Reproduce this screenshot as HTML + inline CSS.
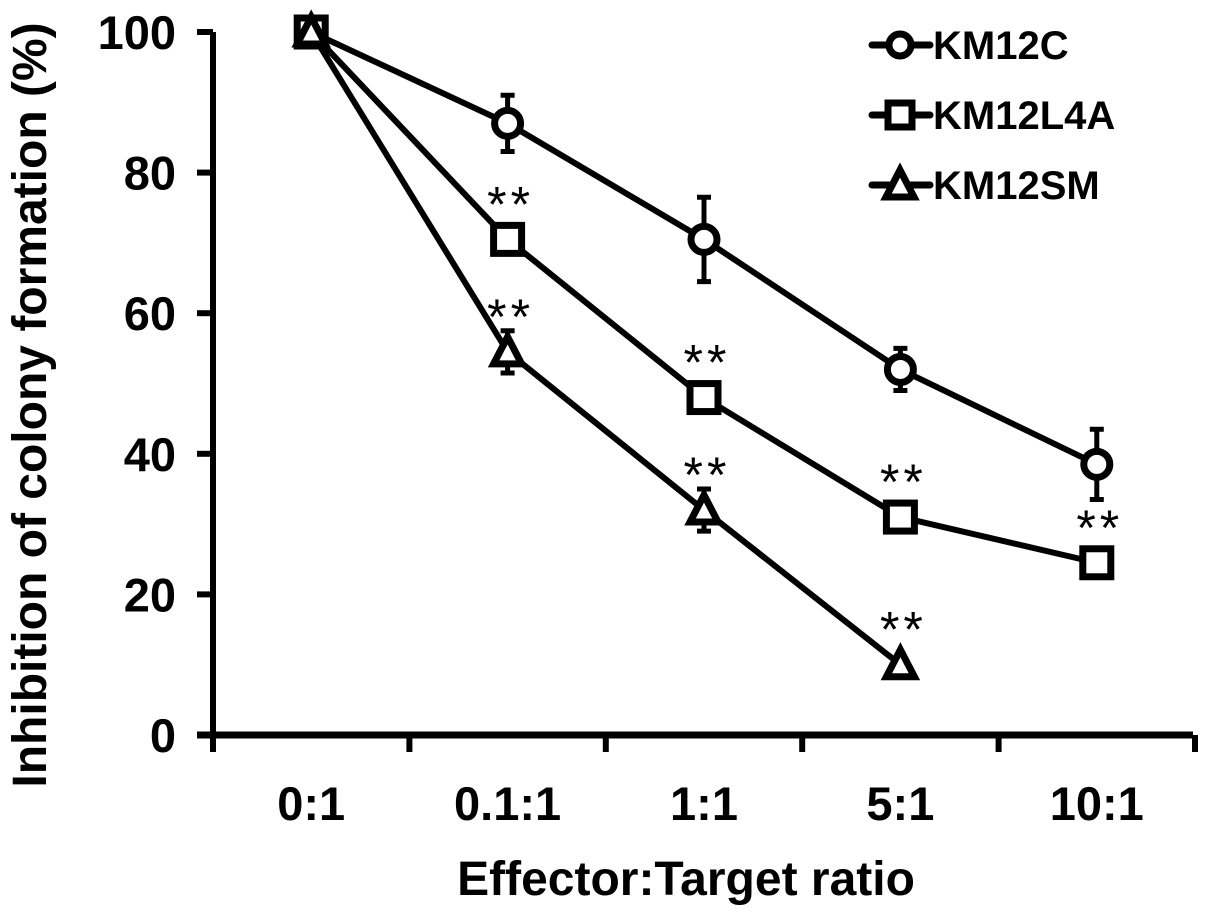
<!DOCTYPE html>
<html><head><meta charset="utf-8"><style>
html,body{margin:0;padding:0;background:#fff;}
svg{display:block;font-family:"Liberation Sans",Arial,sans-serif;font-weight:bold;}
</style></head><body>
<svg id="chart" width="1205" height="922" viewBox="0 0 1205 922"></svg>
<script>
const categories = ["0:1","0.1:1","1:1","5:1","10:1"];
const yTicks = [0,20,40,60,80,100];
const km12c = [100,87,70.5,52,38.5];
const km12cErr = [0,4,6,3,5];
const km12l4a = [100,70.5,48,31,24.5];
const km12l4aErr = [0,1,1,1,1];
const km12sm = [100,54.5,32,10];
const km12smErr = [0,3,3,0];
const starsL4A = [false,true,true,true,true];
const starsSM = [false,true,true,true];
const seriesNames = ["KM12C","KM12L4A","KM12SM"];

const svg = document.getElementById('chart');
const NS = 'http://www.w3.org/2000/svg';
const X0 = 213, XEND = 1193, Y0 = 735, YTOP = 32, STEP = 196.4;
function xs(i){ return X0 + STEP*(i+0.5); }
function ys(v){ return Y0 - (v/100)*(Y0-YTOP); }
function mk(tag, attrs, parent){
  const e = document.createElementNS(NS, tag);
  for (const k in attrs) e.setAttribute(k, attrs[k]);
  (parent||svg).appendChild(e);
  return e;
}
const S = '#000';
let ax = mk('line',{x1:X0,y1:YTOP,x2:X0,y2:Y0+3,stroke:S,'stroke-width':6});
 
ax = mk('line',{x1:X0-16,y1:Y0,x2:XEND,y2:Y0,stroke:S,'stroke-width':7});
 
yTicks.forEach(v=>{
  const t = mk('line',{x1:X0-16,y1:ys(v),x2:X0,y2:ys(v),stroke:S,'stroke-width':6});
   
  const l = mk('text',{x:176,y:ys(v)+17,'text-anchor':'end','font-size':47});
  l.textContent = v;
   
});
for (let i=0;i<=categories.length;i++){
  const t = mk('line',{x1:X0+STEP*i,y1:Y0,x2:X0+STEP*i,y2:Y0+17,stroke:S,'stroke-width':6});
   
}
categories.forEach((c,i)=>{
  const l = mk('text',{x:xs(i),y:820,'text-anchor':'middle','font-size':47});
  l.textContent = c;
   
});
let tt = mk('text',{x:686,y:895,'text-anchor':'middle','font-size':48});
tt.textContent = 'Effector:Target ratio';
 
tt = mk('text',{x:0,y:0,'text-anchor':'middle','font-size':48,transform:'translate(46,405) rotate(-90)'});
tt.textContent = 'Inhibition of colony formation (%)';
 

function marker(type, cx, cy, g){
  let m;
  if (type==='circle') m = mk('circle',{cx:cx,cy:cy,r:13,fill:'#fff',stroke:S,'stroke-width':7},g);
  else if (type==='square') m = mk('rect',{x:cx-14,y:cy-14,width:28,height:28,fill:'#fff',stroke:S,'stroke-width':7},g);
  else m = mk('polygon',{points:`${cx},${cy-15} ${cx+14},${cy+12} ${cx-14},${cy+12}`,fill:'#fff',stroke:S,'stroke-width':7},g);
  return m;
}
function drawSeries(vals, errs, type, name, stars){
  const g = mk('g',{});
  
  
  const pts = vals.map((v,i)=>xs(i)+','+ys(v)).join(' ');
  mk('polyline',{points:pts,fill:'none',stroke:S,'stroke-width':6,'stroke-linejoin':'round'},g);
  vals.forEach((v,i)=>{
    const e = errs[i];
    if (e>0){
      const eb = mk('path',{d:`M${xs(i)},${ys(v+e)}V${ys(v-e)}M${xs(i)-7},${ys(v+e)}H${xs(i)+7}M${xs(i)-7},${ys(v-e)}H${xs(i)+7}`,stroke:S,'stroke-width':5,fill:'none'},g);
       
    }
  });
  vals.forEach((v,i)=>{
    const m = marker(type, xs(i), ys(v), g);
    
    
    if (stars && stars[i]){
      const s = mk('text',{x:xs(i)+3,y:ys(v)-18,'text-anchor':'middle','font-size':50,'font-weight':'normal','letter-spacing':4},g);
      s.textContent = '**';
      
      
    }
  });
}
drawSeries(km12c, km12cErr, 'circle', 'km12c', null);
drawSeries(km12l4a, km12l4aErr, 'square', 'km12l4a', starsL4A);
drawSeries(km12sm, km12smErr, 'triangle', 'km12sm', starsSM);

const types = ['circle','square','triangle'];
const legY = [45,115,185];
seriesNames.forEach((n,i)=>{
  const g = mk('g',{});
  
  
  mk('line',{x1:872,y1:legY[i],x2:930,y2:legY[i],stroke:S,'stroke-width':7,'stroke-linecap':'round'},g);
  const m = marker(types[i],900,legY[i],g);
  if (types[i]==='circle') m.setAttribute('r',11);
  if (types[i]==='square'){ m.setAttribute('x',888); m.setAttribute('y',legY[i]-12); m.setAttribute('width',24); m.setAttribute('height',24); }
  const t = mk('text',{x:933,y:legY[i]+14,'font-size':40},g);
  t.textContent = n;
});
</script>
</body></html>
